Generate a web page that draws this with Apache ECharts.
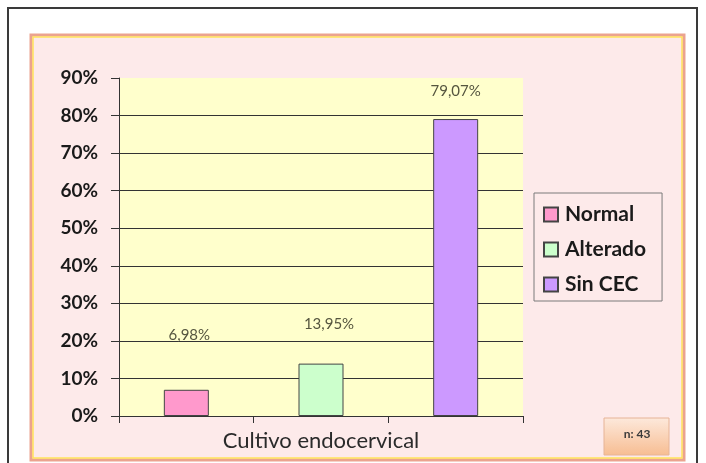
<!DOCTYPE html>
<html>
<head>
<meta charset="utf-8">
<style>
  html, body { margin: 0; padding: 0; background: #ffffff; }
  #chart { width: 706px; height: 463px; }
</style>
<script src="https://cdn.jsdelivr.net/npm/echarts@6/dist/echarts.min.js"></script>
</head>
<body>
<div id="chart"></div>
<script>
// Results of the endocervical culture (n = 43)
const seriesNames = ['Normal', 'Alterado', 'Sin CEC'];
const percentValues = [6.98, 13.95, 79.07];
const seriesColors = ['#ff99cc', '#ccffcc', '#cc99ff'];
const slotKeys = ['s1', 's2', 's3'];
const yTicks = [0, 10, 20, 30, 40, 50, 60, 70, 80, 90];
const axisTitle = 'Cultivo endocervical';
const sampleNote = 'n: 43';

// label placement tweaks per bar: [distance above bar, horizontal shift]
const labelPlacement = [[47, 3], [32, 8], [20, 0]];

const FONT = 'Lato, "Open Sans", sans-serif';

const series = seriesNames.map((name, i) => ({
  name: name,
  type: 'bar',
  stack: 'one',
  barWidth: 45,
  data: slotKeys.map((k, j) => (j === i ? percentValues[i] : '-')),
  itemStyle: { color: seriesColors[i], borderColor: '#444', borderWidth: 1 },
  label: {
    show: true,
    position: 'top',
    distance: labelPlacement[i][0],
    offset: [labelPlacement[i][1], 0],
    fontFamily: FONT,
    fontSize: 15,
    color: '#55553f',
    formatter: p => p.value.toFixed(2).replace('.', ',') + '%'
  }
}));

const chart = echarts.init(document.getElementById('chart'), null, { renderer: 'canvas' });
chart.setOption({
  animation: false,
  backgroundColor: '#ffffff',
  graphic: [
    { type: 'rect', z: -20, shape: { x: 8, y: 8, width: 689, height: 470 },
      style: { fill: '#ffffff', stroke: '#3a3a3a', lineWidth: 2 } },
    { type: 'rect', z: -19, shape: { x: 31, y: 35, width: 653, height: 425 },
      style: { fill: '#fdeaea', stroke: '#eba38f', lineWidth: 3 } },
    { type: 'rect', z: -18, shape: { x: 33, y: 37, width: 649, height: 421 },
      style: { fill: '#fdeaea', stroke: '#ffe35a', lineWidth: 1.5 } },
    { type: 'rect', z: 10, shape: { x: 604, y: 418, width: 65, height: 37 },
      style: {
        fill: new echarts.graphic.LinearGradient(0, 0, 0, 1, [
          { offset: 0, color: '#fde9dc' }, { offset: 1, color: '#f7bd92' }
        ]),
        stroke: '#e6b497', lineWidth: 1
      } },
    { type: 'text', z: 11, x: 637, y: 434,
      style: { text: sampleNote, fontFamily: FONT, fontSize: 12, fontWeight: 'bold', fill: '#3a3a3a',
               align: 'center', verticalAlign: 'middle' } }
  ],
  grid: {
    left: 119, right: 183, top: 78, bottom: 47,
    show: true, backgroundColor: '#ffffcc', borderWidth: 0
  },
  legend: {
    orient: 'vertical',
    left: 534, top: 193,
    data: seriesNames,
    icon: 'rect',
    itemWidth: 14, itemHeight: 14,
    itemGap: 14,
    padding: [11, 16, 6, 9],
    backgroundColor: '#fdeaea',
    borderColor: '#7a7a7a', borderWidth: 1,
    textStyle: { fontFamily: FONT, fontSize: 21, lineHeight: 21, fontWeight: 'bold', color: '#1a1a1a', padding: [0, 0, 0, 2] }
  },
  xAxis: {
    type: 'category',
    data: slotKeys,
    boundaryGap: true,
    axisLine: { lineStyle: { color: '#333', width: 1 } },
    axisTick: { show: true, length: 7, lineStyle: { color: '#333' } },
    axisLabel: { show: false },
    name: axisTitle,
    nameLocation: 'middle',
    nameGap: 14,
    nameTextStyle: { fontFamily: FONT, fontSize: 22, color: '#2a2a2a' }
  },
  yAxis: {
    type: 'value',
    min: yTicks[0],
    max: yTicks[yTicks.length - 1],
    interval: 10,
    axisLine: { show: true, lineStyle: { color: '#333', width: 1 } },
    axisTick: { show: true, length: 8, lineStyle: { color: '#333' } },
    axisLabel: {
      margin: 21,
      fontFamily: FONT, fontSize: 19, fontWeight: 'bold', color: '#1a1a1a',
      formatter: v => v + '%'
    },
    splitLine: {
      show: true,
      lineStyle: {
        color: yTicks.map((t, i) => (i === yTicks.length - 1 ? 'rgba(0,0,0,0)' : '#333')),
        width: 1
      }
    }
  },
  series: series
});
</script>
</body>
</html>
